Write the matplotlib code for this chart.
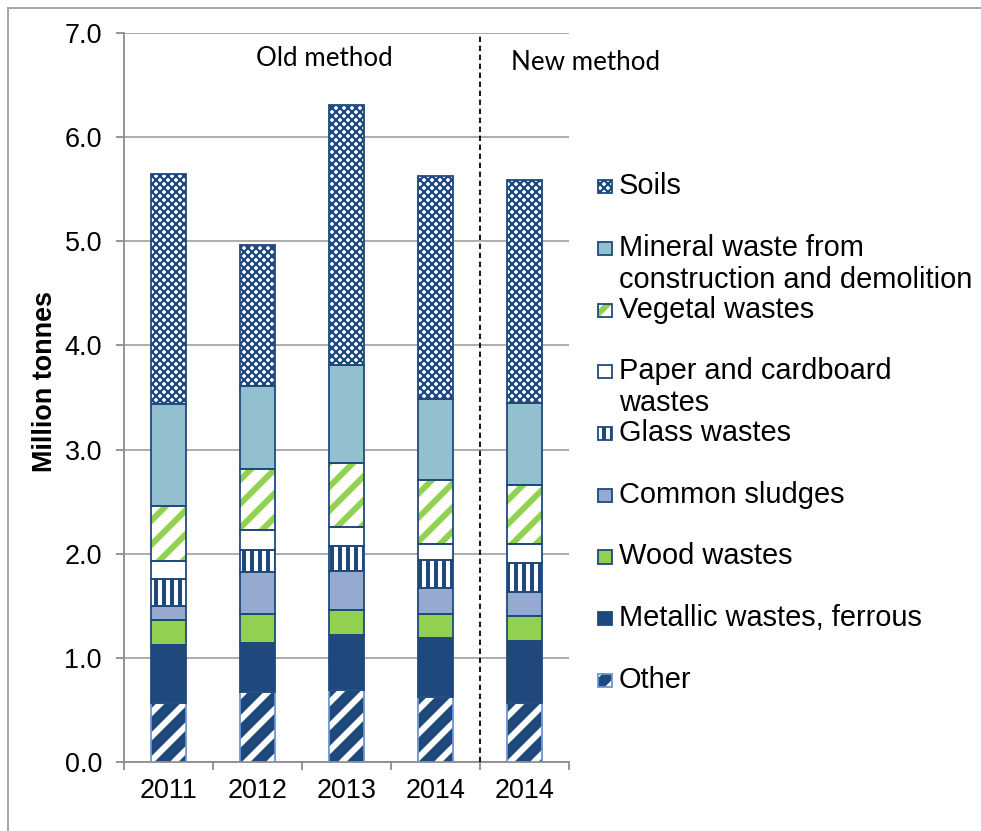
import matplotlib
matplotlib.use('Agg')
import matplotlib.pyplot as plt
from matplotlib.patches import Rectangle
from matplotlib.lines import Line2D
import numpy as np

years = ['2011', '2012', '2013', '2014', '2014']

# million tonnes, stacked bottom to top
other = [0.57, 0.67, 0.69, 0.62, 0.57]
metallic = [0.55, 0.47, 0.53, 0.57, 0.59]
wood = [0.24, 0.28, 0.24, 0.23, 0.24]
sludges = [0.14, 0.40, 0.37, 0.25, 0.23]
glass = [0.26, 0.22, 0.24, 0.27, 0.28]
paper = [0.17, 0.19, 0.19, 0.15, 0.18]
vegetal = [0.53, 0.58, 0.61, 0.62, 0.57]
mineral = [0.98, 0.80, 0.94, 0.78, 0.79]
soils = [2.21, 1.35, 2.50, 2.14, 2.14]

labels = ['Other', 'Metallic wastes, ferrous', 'Wood wastes', 'Common sludges',
          'Glass wastes', 'Paper and cardboard\nwastes', 'Vegetal wastes',
          'Mineral waste from\nconstruction and demolition', 'Soils']

DARK = '#1F497D'
GREEN = '#92D050'
# face, hatch colour, hatch, hatch width, outline
styles = [
    (DARK, 'white', '//', 3.0, '#6A95D2'),
    (DARK, DARK, None, 0, DARK),
    (GREEN, GREEN, None, 0, DARK),
    ('#95A9D1', DARK, None, 0, DARK),
    ('white', DARK, '|||', 2.0, DARK),
    ('white', DARK, None, 0, DARK),
    ('white', GREEN, '//', 3.0, DARK),
    ('#93C0CF', DARK, None, 0, DARK),
    ('white', DARK, 'xxxxxx', 1.1, DARK),
]

W, H, DPI = 981, 831, 144


def fx(px):
    return px / W


def fy(py):
    return 1 - py / H


plt.rcParams['font.family'] = ['Liberation Sans', 'DejaVu Sans']

fig = plt.figure(figsize=(W / DPI, H / DPI), dpi=DPI)
ax = fig.add_axes([fx(124), fy(762), fx(569) - fx(124), fy(33) - fy(762)])


def set_hw(patch, lw):
    if hasattr(patch, 'set_hatch_linewidth'):
        patch.set_hatch_linewidth(lw)


x = np.arange(len(years))
series = [other, metallic, wood, sludges, glass, paper, vegetal, mineral, soils]
bottom = np.zeros(len(years))
for vals, (face, hcol, hatch, hw, edge) in zip(series, styles):
    vals = np.array(vals)
    fill = ax.bar(x, vals, 0.4, bottom=bottom, color=face, edgecolor=hcol,
                  hatch=hatch, linewidth=0, zorder=3)
    for p in fill:
        set_hw(p, hw)
    ax.bar(x, vals, 0.4, bottom=bottom, fill=False, edgecolor=edge,
           linewidth=0.9, zorder=4)
    bottom += vals

ax.set_xlim(-0.5, 4.5)
ax.set_ylim(0, 7)
ax.set_yticks(np.arange(0, 7.5, 1.0))
ax.set_yticklabels([f'{v:.1f}' for v in np.arange(0, 7.5, 1.0)], fontsize=13.5)
ax.set_xticks(x)
ax.set_xticklabels(years, fontsize=13.5)
ax.set_xticks(np.arange(-0.5, 5, 1.0), minor=True)
ax.tick_params(axis='x', which='major', length=0, pad=8)
ax.tick_params(axis='x', which='minor', length=4, width=0.9, color='#8C8C8C')
ax.tick_params(axis='y', length=4, width=0.9, color='#8C8C8C', pad=7)

ax.yaxis.grid(True, color='#9A9A9A', linewidth=0.8, zorder=0)
ax.set_axisbelow(True)
for s in ['top', 'right']:
    ax.spines[s].set_visible(False)
for s in ['left', 'bottom']:
    ax.spines[s].set_color('#8C8C8C')
    ax.spines[s].set_linewidth(0.9)

ax.axvline(3.5, color='black', linestyle=(0, (3, 2)), linewidth=0.9, zorder=5)

fig.text(fx(45), fy(382), 'Million tonnes', rotation=90, ha='center',
         va='center', fontsize=13.5, fontweight='bold')
fig.text(fx(324), fy(58), 'Old method', ha='center', va='center',
         fontsize=13, family=['Lato', 'DejaVu Sans'])
fig.text(fx(586), fy(63), 'New method', ha='center', va='center',
         fontsize=13, family=['Lato', 'DejaVu Sans'])

# legend, top entry first
for i, k in enumerate(range(len(labels) - 1, -1, -1)):
    yc = 186 + i * 61.75
    face, hcol, hatch, hw, edge = styles[k]
    r = Rectangle((fx(598), fy(yc + 7)), fx(612) - fx(598), fy(yc - 6) - fy(yc + 7),
                  transform=fig.transFigure, facecolor=face, edgecolor=hcol,
                  hatch=hatch, linewidth=0)
    set_hw(r, hw)
    fig.add_artist(r)
    fig.add_artist(Rectangle((fx(598), fy(yc + 7)), fx(612) - fx(598),
                             fy(yc - 6) - fy(yc + 7), transform=fig.transFigure,
                             fill=False, edgecolor=edge, linewidth=0.9))
    for j, line in enumerate(labels[k].split('\n')):
        fig.text(fx(619), fy(yc + j * 32), line, ha='left', va='center',
                 fontsize=14.5)

# outer frame (top and left edges visible)
fig.add_artist(Line2D([fx(8), 1], [fy(8), fy(8)], color='#A6A6A6', linewidth=1.0))
fig.add_artist(Line2D([fx(8), fx(8)], [0, fy(8)], color='#A6A6A6', linewidth=1.0))

fig.savefig('out.png', dpi=DPI)
